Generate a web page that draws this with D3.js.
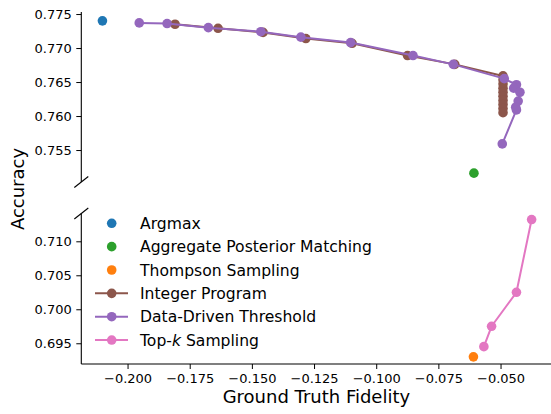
<!DOCTYPE html>
<html>
<head>
<meta charset="utf-8">
<script src="https://cdn.jsdelivr.net/npm/d3@7"></script>
<style>
  html, body { margin: 0; padding: 0; background: #fff; }
  svg { display: block; font-family: "DejaVu Sans", sans-serif; }
</style>
</head>
<body>
<svg id="chart" width="551" height="414"></svg>
<script>
// ---- data ----
const argmaxX = [-0.2101];
const argmaxY = [0.7740];
const apmX = [-0.0607];
const apmY = [0.7516];
const tsX = [-0.0609];
const tsY = [0.6930];
const ipX = [-0.1809, -0.1636, -0.1455, -0.1283, -0.1097, -0.0874, -0.0684, -0.0490,
             -0.0490, -0.0490, -0.0490, -0.0490, -0.0490, -0.0490, -0.0490, -0.0490, -0.0490];
const ipY = [0.7735, 0.7729, 0.7723, 0.7714, 0.7707, 0.7689, 0.7676, 0.7659,
             0.7653, 0.7647, 0.7641, 0.7635, 0.7629, 0.7623, 0.7617, 0.7611, 0.7605];
const ddtX = [-0.1953, -0.1841, -0.1675, -0.1464, -0.1303, -0.1103, -0.0852, -0.0690, -0.0485,
              -0.0436, -0.0447, -0.0422, -0.0429, -0.0439, -0.0436, -0.0493];
const ddtY = [0.7737, 0.7736, 0.7730, 0.7724, 0.7716, 0.7708, 0.7689, 0.7676, 0.7655,
              0.7646, 0.7641, 0.7635, 0.7622, 0.7613, 0.7609, 0.7559];
const topkX = [-0.0567, -0.0536, -0.0436, -0.0375];
const topkY = [0.6945, 0.6975, 0.7025, 0.7132];
const xTicks = [-0.200, -0.175, -0.150, -0.125, -0.100, -0.075, -0.050];
const yTicksTop = [0.755, 0.760, 0.765, 0.770, 0.775];
const yTicksBottom = [0.695, 0.700, 0.705, 0.710];
const legendLabels = ["Argmax", "Aggregate Posterior Matching", "Thompson Sampling",
                      "Integer Program", "Data-Driven Threshold", "Top-k Sampling"];

// ---- colours ----
const C = { blue: "#1f77b4", green: "#2ca02c", orange: "#ff7f0e",
            brown: "#8c564b", purple: "#9467bd", pink: "#e377c2" };

const svg = d3.select("#chart");
const left = 81.3, right = 553;
const x = d3.scaleLinear().domain([-0.2186, -0.0289]).range([left, right]);
const yTop = d3.scaleLinear().domain([0.7503, 0.7753]).range([182, 12]);
const yBot = d3.scaleLinear().domain([0.69195, 0.71409]).range([364, 213.5]);

const fmt3 = d3.format(".3f");
const minusFmt = v => fmt3(v).replace("-", "\u2212");

const gTop = svg.append("g").attr("transform", `translate(${left},0)`)
  .call(d3.axisLeft(yTop).tickValues(yTicksTop).tickFormat(fmt3).tickSize(5).tickPadding(4.5));
const gBot = svg.append("g").attr("transform", `translate(${left},0)`)
  .call(d3.axisLeft(yBot).tickValues(yTicksBottom).tickFormat(fmt3).tickSize(5).tickPadding(4.5));
const gX = svg.append("g").attr("transform", `translate(0,364)`)
  .call(d3.axisBottom(x).tickValues(xTicks).tickFormat(minusFmt).tickSize(5).tickPadding(5));

[gTop, gBot, gX].forEach(g => {
  g.selectAll("path.domain").attr("stroke", "#000").attr("stroke-width", 1.1);
  g.selectAll(".tick line").attr("stroke", "#000").attr("stroke-width", 1);
  g.selectAll(".tick text").attr("fill", "#000").style("font-size", "13px")
    .style("font-family", "DejaVu Sans");
});
gTop.select("path.domain").attr("d", `M0,${yTop.range()[0]}V${yTop.range()[1]}`);
gBot.select("path.domain").attr("d", `M0,${yBot.range()[0]}V${yBot.range()[1]}`);
gX.select("path.domain").attr("d", `M${left},0H${right}`);

// break marks
[182, 213.5].forEach(yy => {
  svg.append("line").attr("x1", left - 7).attr("y1", yy + 5.5)
    .attr("x2", left + 7).attr("y2", yy - 5.5)
    .attr("stroke", "#000").attr("stroke-width", 1.1);
});

// labels
svg.append("text").attr("x", 316.4).attr("y", 403)
  .attr("text-anchor", "middle").style("font-size", "18px").text("Ground Truth Fidelity");
svg.append("text").attr("transform", "translate(24,189) rotate(-90)")
  .attr("text-anchor", "middle").style("font-size", "18px").text("Accuracy");

const R = 4.8;
function series(xs, ys, yScale, color, withLine) {
  const pts = xs.map((v, i) => [x(v), yScale(ys[i])]);
  if (withLine) {
    svg.append("path").attr("d", d3.line()(pts)).attr("fill", "none")
      .attr("stroke", color).attr("stroke-width", 2).attr("stroke-linejoin", "round");
  }
  svg.append("g").selectAll("circle").data(pts).join("circle")
    .attr("cx", d => d[0]).attr("cy", d => d[1]).attr("r", R).attr("fill", color);
}
series(argmaxX, argmaxY, yTop, C.blue, false);
series(apmX, apmY, yTop, C.green, false);
series(tsX, tsY, yBot, C.orange, false);
series(ipX, ipY, yTop, C.brown, true);
series(ddtX, ddtY, yTop, C.purple, true);
series(topkX, topkY, yBot, C.pink, true);

// legend
const legColors = [C.blue, C.green, C.orange, C.brown, C.purple, C.pink];
const legLine = [false, false, false, true, true, true];
const lg = svg.append("g");
legendLabels.forEach((lab, i) => {
  const cy = 223.3 + i * 23.35;
  if (legLine[i]) {
    lg.append("line").attr("x1", 95).attr("x2", 128).attr("y1", cy).attr("y2", cy)
      .attr("stroke", legColors[i]).attr("stroke-width", 2);
  }
  lg.append("circle").attr("cx", 111.7).attr("cy", cy).attr("r", R).attr("fill", legColors[i]);
  const t = lg.append("text").attr("x", 140).attr("y", cy + 5.6).style("font-size", "15.6px");
  if (lab.startsWith("Top-k")) {
    t.append("tspan").text("Top-");
    t.append("tspan").style("font-style", "italic").text("k");
    t.append("tspan").text(" Sampling");
  } else {
    t.text(lab);
  }
});
</script>
</body>
</html>
